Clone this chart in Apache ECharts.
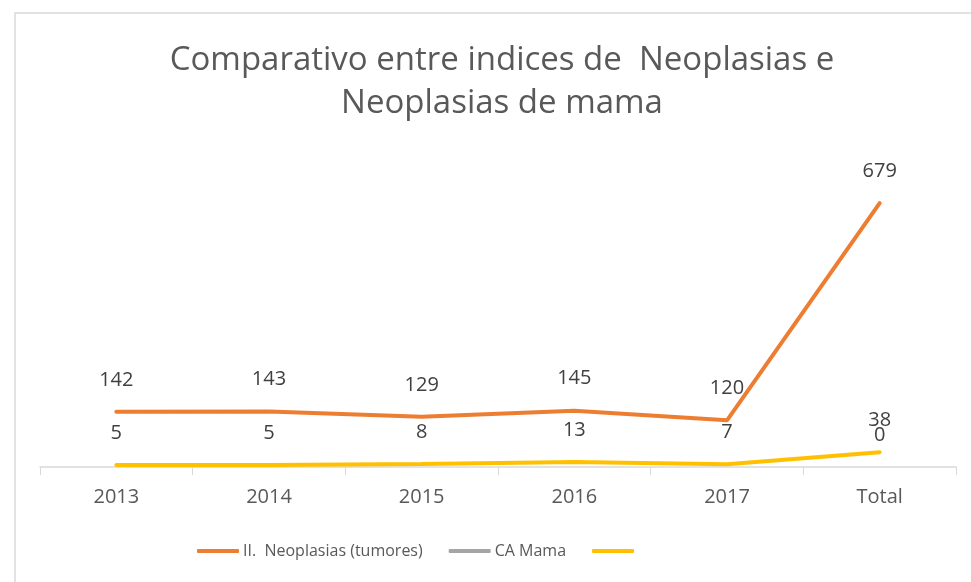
<!DOCTYPE html>
<html>
<head>
<meta charset="utf-8">
<script src="https://cdn.jsdelivr.net/npm/echarts@6/dist/echarts.min.js"></script>
<style>
  html, body { margin: 0; padding: 0; background: #fff; }
  #chart { width: 971px; height: 582px; }
</style>
</head>
<body>
<div id="chart"></div>
<script>
// datos
const categorias = ['2013', '2014', '2015', '2016', '2017', 'Total'];
const neoplasias = [142, 143, 129, 145, 120, 679];
const caMama = [null, null, null, null, null, 0];
const mama = [5, 5, 8, 13, 7, 38];

const nomeNeo = 'II.  Neoplasias (tumores)';
const nomeCa = 'CA Mama';
const nomeMama = ' ';

const fonte = 'Open Sans, Liberation Sans, sans-serif';

var chart = echarts.init(document.getElementById('chart'));

function serie(nome, dados, cor) {
    return {
        name: nome,
        type: 'line',
        data: dados,
        showSymbol: true,
        symbolSize: 0,
        lineStyle: { color: cor, width: 4, cap: 'round' },
        itemStyle: { color: cor },
        label: {
            show: true,
            position: 'top',
            distance: 22,
            color: '#404040',
            fontSize: 20,
            fontFamily: fonte
        }
    };
}

var option = {
    animation: false,
    backgroundColor: '#fff',
    graphic: [{
        type: 'rect',
        shape: { x: 15, y: 13, width: 1000, height: 1000 },
        style: { fill: 'none', stroke: '#d9d9d9', lineWidth: 1.5 },
        silent: true
    }],
    title: {
        text: 'Comparativo entre indices de  Neoplasias e\nNeoplasias de mama',
        left: 497,
        textAlign: 'center',
        top: 34,
        textStyle: {
            color: '#595959',
            fontSize: 33,
            fontWeight: 'normal',
            fontFamily: fonte,
            lineHeight: 43
        }
    },
    legend: {
        bottom: 18,
        left: 192,
        itemWidth: 42,
        itemHeight: 4,
        itemGap: 26,
        icon: 'roundRect',
        data: [nomeNeo, nomeCa, nomeMama],
        textStyle: { color: '#595959', fontSize: 16, fontFamily: fonte, padding: [0, 0, 0, -1] }
    },
    grid: {
        left: 40,
        right: 15,
        top: 156,
        bottom: 115
    },
    xAxis: {
        type: 'category',
        data: categorias,
        boundaryGap: true,
        axisLine: { lineStyle: { color: '#d9d9d9', width: 1.5 } },
        axisTick: { show: true, length: 8, lineStyle: { color: '#d9d9d9' } },
        axisLabel: { color: '#595959', fontSize: 20, fontFamily: fonte, margin: 20 }
    },
    yAxis: {
        type: 'value',
        min: 0,
        max: 800,
        show: false,
        splitLine: { show: false }
    },
    series: [
        serie(nomeNeo, neoplasias, '#ED7D31'),
        serie(nomeCa, caMama, '#A5A5A5'),
        serie(nomeMama, mama, '#FFC000')
    ]
};
chart.setOption(option);
</script>
</body>
</html>
